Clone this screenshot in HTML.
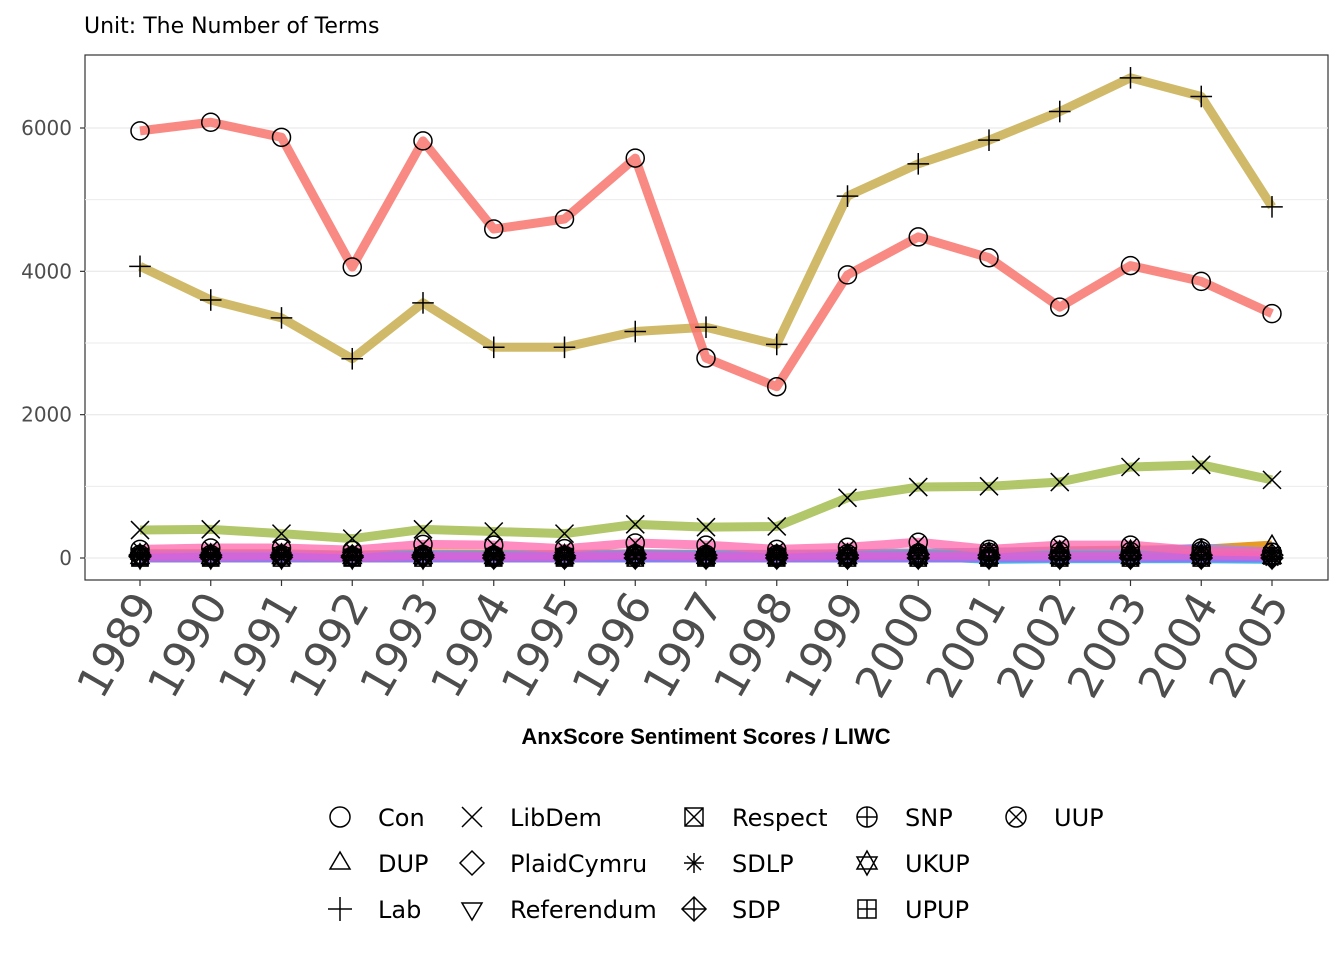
<!DOCTYPE html>
<html><head><meta charset="utf-8"><style>
body{margin:0;background:#fff;font-family:"DejaVu Sans","Liberation Sans",sans-serif}
</style></head><body>
<svg id="c" width="1344" height="960" xmlns="http://www.w3.org/2000/svg">
<text x="84" y="33" font-size="22" fill="#000">Unit: The Number of Terms</text>
<rect x="85" y="55" width="1243" height="525" fill="#fff" stroke="#333" stroke-width="1.2"/>
<g id="grid"></g><g id="series"></g><g id="axes"></g>
<text x="706" y="744" font-size="22" font-weight="bold" font-family="Liberation Sans,sans-serif" text-anchor="middle">AnxScore Sentiment Scores / LIWC</text>
<g id="legend"></g>
</svg>
<script>
const years=[1989,1990,1991,1992,1993,1994,1995,1996,1997,1998,1999,2000,2001,2002,2003,2004,2005];
const yTicks=[0,2000,4000,6000];
const parties=["Con","DUP","Lab","LibDem","PlaidCymru","Referendum","Respect","SDLP","SDP","SNP","UKUP","UPUP","UUP"];
const colors=["#F8766D","#E18A00","#C8AE4F","#A3BD4F","#24B700","#00BE70","#00C1AB","#00BBDA","#00ACFC","#8B93FF","#B36CF5","#E060D0","#FF65AC"];
const Con=[5960,6080,5870,4060,5820,4590,4730,5580,2790,2390,3950,4480,4190,3500,4080,3860,3410];
const DUP=[60,60,60,40,60,50,50,60,50,50,60,70,80,100,110,120,180];
const Lab=[4070,3600,3350,2780,3560,2940,2940,3160,3220,2980,5050,5500,5830,6230,6700,6440,4900];
const LibDem=[390,400,340,270,400,370,340,470,430,440,840,990,1000,1060,1270,1300,1090];
const PlaidCymru=[40,40,40,30,40,40,30,50,40,40,40,50,40,40,40,40,40];
const Referendum=[0,0,0,0,0,0,0,0,10,0,0,0,0,0,0,0,0];
const Respect=[0,0,0,0,0,0,0,0,0,0,0,0,0,0,0,0,30];
const SDLP=[30,30,30,30,30,30,30,30,30,30,30,30,-20,-10,-10,-10,-20];
const SDP=[20,10,10,10,10,0,0,0,0,0,0,0,0,0,0,0,0];
const SNP=[50,50,50,30,50,40,40,60,50,50,60,70,80,90,90,140,80];
const UKUP=[0,0,0,0,0,0,0,0,0,0,0,0,0,0,0,0,0];
const UPUP=[20,20,30,10,30,20,20,40,20,20,30,30,30,30,30,40,30];
const UUP=[120,140,140,110,190,180,130,210,180,120,150,220,120,180,180,100,80];
const values=[Con,DUP,Lab,LibDem,PlaidCymru,Referendum,Respect,SDLP,SDP,SNP,UKUP,UPUP,UUP];
const NS="http://www.w3.org/2000/svg";
const x=i=>140+i*(1272-140)/(years.length-1);
const y=v=>558-v*(430/6000);
function el(t,a,p){const e=document.createElementNS(NS,t);for(const k in a)e.setAttribute(k,a[k]);p.appendChild(e);return e;}
const grid=document.getElementById('grid'),ser=document.getElementById('series'),ax=document.getElementById('axes'),leg=document.getElementById('legend');
[1000,3000,5000].forEach(v=>{const g=el('line',{x1:85,x2:1328,y1:y(v),y2:y(v),stroke:'#ebebeb','stroke-width':1},grid);

});
yTicks.forEach(v=>{const g=el('line',{x1:85,x2:1328,y1:y(v),y2:y(v),stroke:'#ebebeb','stroke-width':1.3},grid);


const t=el('line',{x1:80,x2:85,y1:y(v),y2:y(v),stroke:'#333','stroke-width':1.2},ax);


const l=el('text',{x:72,y:y(v)+7,'text-anchor':'end','font-size':20,fill:'#4d4d4d'},ax);l.textContent=v;

});
years.forEach((yr,i)=>{const t=el('line',{x1:x(i),x2:x(i),y1:580,y2:586,stroke:'#333','stroke-width':1.2},ax);


const l=el('text',{x:0,y:0,'text-anchor':'end','font-size':44,fill:'#4d4d4d',transform:`translate(${x(i)+18},${604}) rotate(-60)`},ax);l.textContent=yr;

});
function shape(p,cx,cy,s,k){const a={fill:'none',stroke:'#000','stroke-width':1.5};const g=el('g',{},p);
const L=(x1,y1,x2,y2)=>el('line',Object.assign({x1:cx+x1,y1:cy+y1,x2:cx+x2,y2:cy+y2},a),g);
const r=s;
switch(k){
case 0:el('circle',Object.assign({cx,cy,r},a),g);break;
case 1:el('polygon',Object.assign({points:`${cx},${cy-r*1.1} ${cx-r},${cy+r*.6} ${cx+r},${cy+r*.6}`},a),g);break;
case 2:L(-r*1.2,0,r*1.2,0);L(0,-r*1.2,0,r*1.2);break;
case 3:L(-r,-r,r,r);L(-r,r,r,-r);break;
case 4:el('polygon',Object.assign({points:`${cx},${cy-r*1.2} ${cx+r*1.2},${cy} ${cx},${cy+r*1.2} ${cx-r*1.2},${cy}`},a),g);break;
case 5:el('polygon',Object.assign({points:`${cx},${cy+r*1.1} ${cx-r},${cy-r*.6} ${cx+r},${cy-r*.6}`},a),g);break;
case 6:el('rect',Object.assign({x:cx-r*.9,y:cy-r*.9,width:r*1.8,height:r*1.8},a),g);L(-r*.9,-r*.9,r*.9,r*.9);L(-r*.9,r*.9,r*.9,-r*.9);break;
case 7:L(-r,0,r,0);L(0,-r,0,r);L(-r*.7,-r*.7,r*.7,r*.7);L(-r*.7,r*.7,r*.7,-r*.7);break;
case 8:el('polygon',Object.assign({points:`${cx},${cy-r*1.2} ${cx+r*1.2},${cy} ${cx},${cy+r*1.2} ${cx-r*1.2},${cy}`},a),g);L(-r*1.2,0,r*1.2,0);L(0,-r*1.2,0,r*1.2);break;
case 9:el('circle',Object.assign({cx,cy,r},a),g);L(-r,0,r,0);L(0,-r,0,r);break;
case 10:el('polygon',Object.assign({points:`${cx},${cy-r*1.2} ${cx-r},${cy+r*.6} ${cx+r},${cy+r*.6}`},a),g);el('polygon',Object.assign({points:`${cx},${cy+r*1.2} ${cx-r},${cy-r*.6} ${cx+r},${cy-r*.6}`},a),g);break;
case 11:el('rect',Object.assign({x:cx-r*.9,y:cy-r*.9,width:r*1.8,height:r*1.8},a),g);L(-r*.9,0,r*.9,0);L(0,-r*.9,0,r*.9);break;
case 12:el('circle',Object.assign({cx,cy,r},a),g);L(-r*.7,-r*.7,r*.7,r*.7);L(-r*.7,r*.7,r*.7,-r*.7);break;}
return g;}
const order=[1,4,5,6,7,8,9,10,11,12,3,2,0];
order.forEach(pi=>{const vals=values[pi];
const pl=el('polyline',{points:vals.map((v,i)=>x(i)+','+y(v)).join(' '),fill:'none',stroke:colors[pi],'stroke-width':pi<=3?9:9,'stroke-opacity':pi<=3?0.85:0.75,'stroke-linejoin':'round'},ser);

});
order.forEach(pi=>{values[pi].forEach((v,i)=>{const m=shape(ser,x(i),y(v),9,pi);

});});
const colX=[340,472,694,867,1016];
parties.forEach((p,k)=>{const c=Math.floor(k/3),r=k%3;const cx=colX[c],cy=817+r*46;
const g=el('g',{},leg);


shape(g,cx,cy,10,k);
const t=el('text',{x:cx+38,y:cy+9,'font-size':24,fill:'#000'},g);t.textContent=p;});
</script>
</body></html>
